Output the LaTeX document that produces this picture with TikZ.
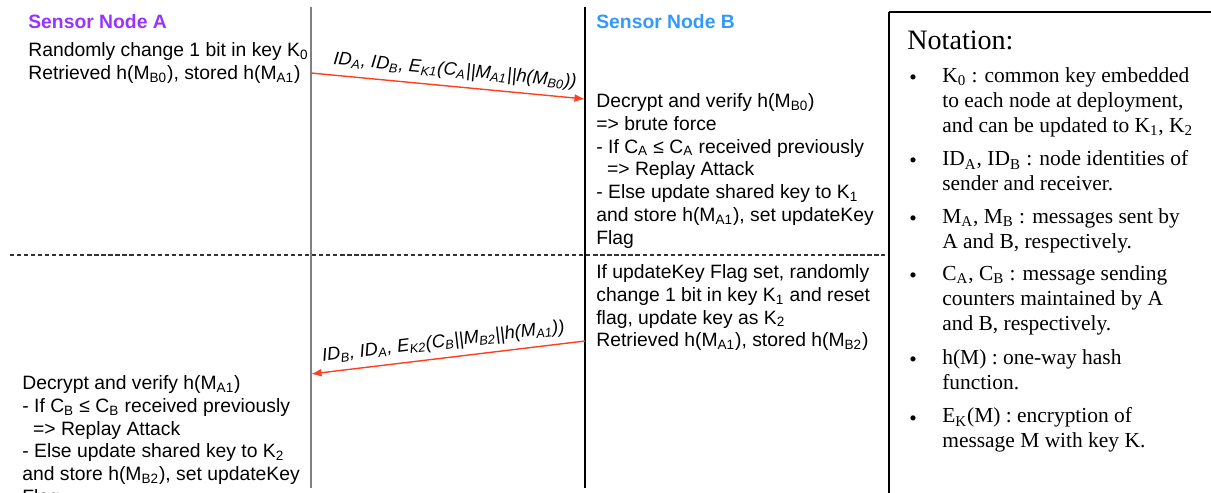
\documentclass[tikz,border=0pt]{standalone}
\usepackage{fontspec}
\setmainfont{Liberation Serif}
\setsansfont{Liberation Sans}
\usetikzlibrary{arrows.meta}
\definecolor{nodea}{RGB}{153, 51, 255}
\definecolor{nodeb}{RGB}{51, 153, 255}
\definecolor{msg}{RGB}{255, 64, 32}
\newcommand{\sbs}[1]{\textsubscript{#1}}

\begin{document}
\begin{tikzpicture}[x=0.02cm, y=-0.02cm]
  \tikzset{
    title/.style={font=\sffamily\bfseries\fontsize{11}{13}\selectfont, anchor=base west, inner sep=0pt},
    blocktext/.style={font=\sffamily\fontsize{11}{13}\selectfont, align=left, anchor=north west,
      inner sep=0pt, execute at begin node=\strut},
    lifeline/.style={line width=0.8pt},
    msgarrow/.style={draw=msg, line width=0.8pt, -{Latex[length=6pt, width=4.5pt]}},
    msglabel/.style={font=\sffamily\itshape\fontsize{10.4}{12}\selectfont, sloped, above, inner sep=3.5pt},
    note/.style={font=\fontsize{12.2}{14.1}\selectfont, align=left, anchor=north west,
      inner sep=0pt, execute at begin node=\strut},
    dot/.style={font=\fontsize{12.2}{14.1}\selectfont, anchor=base west, inner sep=0pt}
  }
  \useasboundingbox (0, 0) rectangle (1211, 493);

  % lifelines and separator
  \coordinate (A top) at (311, 7);
  \coordinate (A bot) at (311, 488);
  \coordinate (B top) at (585, 7);
  \coordinate (B bot) at (585, 488);
  \draw[lifeline, gray] (A top) -- (A bot);
  \draw[lifeline] (B top) -- (B bot);
  \draw[line width=0.6pt, dash pattern=on 2.4pt off 1.6pt, black!80] (10, 255) -- (885, 255);

  % node names
  \node[title, nodea] (nameA) at (28, 29) {Sensor Node A};
  \node[title, nodeb] (nameB) at (596, 29) {Sensor Node B};

  % what each node does
  \node[blocktext] (a1) at (28, 42)
    {Randomly change 1 bit in key K\sbs{0}\\Retrieved h(M\sbs{B0}), stored h(M\sbs{A1})};
  \node[blocktext] (b1) at (596, 93)
    {Decrypt and verify h(M\sbs{B0})\\=> brute force\\- If C\sbs{A} ≤ C\sbs{A} received previously\\
     \ \ => Replay Attack\\- Else update shared key to K\sbs{1}\\and store h(M\sbs{A1}), set updateKey\\Flag};
  \node[blocktext] (b2) at (596, 264)
    {If updateKey Flag set, randomly\\change 1 bit in key K\sbs{1} and reset\\flag, update key as K\sbs{2}\\
     Retrieved h(M\sbs{A1}), stored h(M\sbs{B2})};
  \node[blocktext] (a2) at (22, 375)
    {Decrypt and verify h(M\sbs{A1})\\- If C\sbs{B} ≤ C\sbs{B} received previously\\\ \ => Replay Attack\\
     - Else update shared key to K\sbs{2}\\and store h(M\sbs{B2}), set updateKey\\Flag};

  % messages
  \coordinate (m1 from) at (311, 73);
  \coordinate (m1 to) at (585, 99);
  \coordinate (m2 from) at (585, 341);
  \coordinate (m2 to) at (311, 374);
  \draw[msgarrow] (m1 from) -- node[msglabel, pos=0.52] (lab1)
    {ID\sbs{A}, ID\sbs{B}, E\sbs{K1}(C\sbs{A}||M\sbs{A1}||h(M\sbs{B0}))} (m1 to);
  \draw[msgarrow] (m2 from) -- node[msglabel, pos=0.51] (lab2)
    {ID\sbs{B}, ID\sbs{A}, E\sbs{K2}(C\sbs{B}||M\sbs{B2}||h(M\sbs{A1}))} (m2 to);

  % notation box
  \draw[line width=1.1pt] (1211, 12) -- (889, 12);
  \draw[line width=0.6pt] (889, 12) -- (889, 493);
  \node[font=\fontsize{16}{18}\selectfont, anchor=base west, inner sep=0pt] (nota) at (907, 50) {Notation:};
  \foreach \y/\txt in {
    85/{K\sbs{0} : common key embedded\\to each node at deployment,\\and can be updated to K\sbs{1}, K\sbs{2}},
    168/{ID\sbs{A}, ID\sbs{B} : node identities of\\sender and receiver.},
    226/{M\sbs{A}, M\sbs{B} : messages sent by\\A and B, respectively.},
    283/{C\sbs{A}, C\sbs{B} : message sending\\counters maintained by A\\and B, respectively.},
    367/{h(M) : one-way hash\\function.},
    425/{E\sbs{K}(M) : encryption of\\message M with key K.}} {
    \node[dot] (dot\y) at (909, \y) {\textbullet};
    \node[note] (item\y) at (942, \y - 17.5) {\txt};
  }
\end{tikzpicture}
\end{document}
